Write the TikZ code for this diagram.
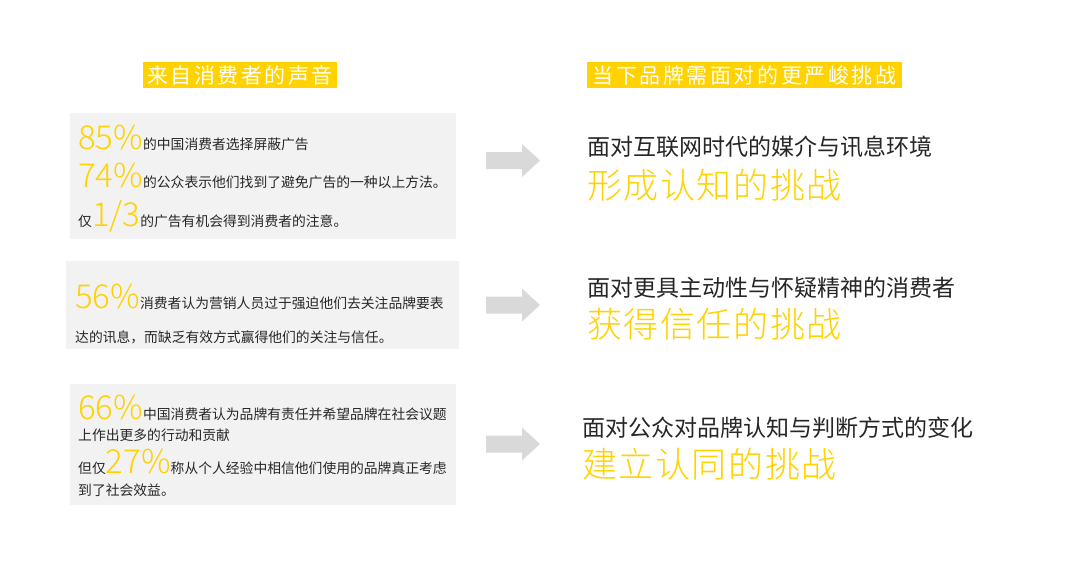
\documentclass[tikz,border=0pt]{standalone}
\usepackage{fontspec}
\setmainfont{Noto Sans CJK SC}
\newfontfamily\cjk{Noto Sans CJK SC}
\newfontfamily\numfont{Noto Sans CJK SC Light}
\definecolor{brandyellow}{HTML}{FFD200}
\definecolor{panelgray}{HTML}{F2F2F2}
\definecolor{arrowgray}{HTML}{D9D9D9}
\definecolor{bodytext}{HTML}{262626}
\newcommand{\bignum}[1]{{\numfont\fontsize{33}{33}\selectfont\color{brandyellow}#1}}
\tikzset{
  panel/.style={fill=panelgray, draw=none},
  headbox/.style={fill=brandyellow, draw=none},
  headtext/.style={inner sep=0pt, text=white, font=\cjk\fontsize{21}{21}\selectfont\addfontfeatures{LetterSpace=12}},
  bodyline/.style={inner sep=0pt, anchor=base west, text=bodytext, font=\cjk\fontsize{13.8}{14}\selectfont},
  topicline/.style={inner sep=0pt, anchor=base west, text=bodytext, font=\cjk\fontsize{23}{23}\selectfont},
  challenge/.style={inner sep=0pt, anchor=base west, text=brandyellow, font=\numfont\fontsize{35}{35}\selectfont\addfontfeatures{LetterSpace=4.5}},
  blockarrow/.style={fill=arrowgray, draw=none}
}
\begin{document}
\begin{tikzpicture}[x=1pt,y=-1pt]
\useasboundingbox (0,0) rectangle (1080,566);
% headers
\fill[headbox] (143,62) rectangle (337,88);
\node[headtext] (h1) at (240,75) {来自消费者的声音};
\fill[headbox] (587,62) rectangle (902,88);
\node[headtext] (h2) at (744.5,75) {当下品牌需面对的更严峻挑战};
% panels
\fill[panel] (70,113) rectangle (456,239);
\fill[panel] (66,261) rectangle (459,349);
\fill[panel] (70,384) rectangle (456,505);
% panel 1
\node[bodyline] (p1a) at (78,149) {\bignum{85\%}的中国消费者选择屏蔽广告};
\node[bodyline] (p1b) at (78,187) {\bignum{74\%}的公众表示他们找到了避免广告的一种以上方法。};
\node[bodyline] (p1c) at (78,226) {仅\bignum{1/3}的广告有机会得到消费者的注意。};
% panel 2
\node[bodyline] (p2a) at (75,308) {\bignum{56\%}消费者认为营销人员过于强迫他们去关注品牌要表};
\node[bodyline] (p2b) at (75,342) {达的讯息，而缺乏有效方式赢得他们的关注与信任。};
% panel 3
\node[bodyline] (p3a) at (78,419) {\bignum{66\%}中国消费者认为品牌有责任并希望品牌在社会议题};
\node[bodyline] (p3b) at (78,440) {上作出更多的行动和贡献};
\node[bodyline] (p3c) at (78,473) {但仅\bignum{27\%}称从个人经验中相信他们使用的品牌真正考虑};
\node[bodyline] (p3d) at (78,495) {到了社会效益。};
% arrows
\foreach \dy in {0,144.5,283.5}{
  \fill[blockarrow] (486,152+\dy) -- (522,152+\dy) -- (522,144+\dy) -- (540,160.5+\dy)
     -- (522,177+\dy) -- (522,169+\dy) -- (486,169+\dy) -- cycle;
}
% right side
\node[topicline] (t1) at (587,155) {面对互联网时代的媒介与讯息环境};
\node[challenge] (c1) at (587,198) {形成认知的挑战};
\node[topicline] (t2) at (587,296) {面对更具主动性与怀疑精神的消费者};
\node[challenge] (c2) at (587,337) {获得信任的挑战};
\node[topicline] (t3) at (582,436) {面对公众对品牌认知与判断方式的变化};
\node[challenge] (c3) at (582,477) {建立认同的挑战};
\end{tikzpicture}
\end{document}
